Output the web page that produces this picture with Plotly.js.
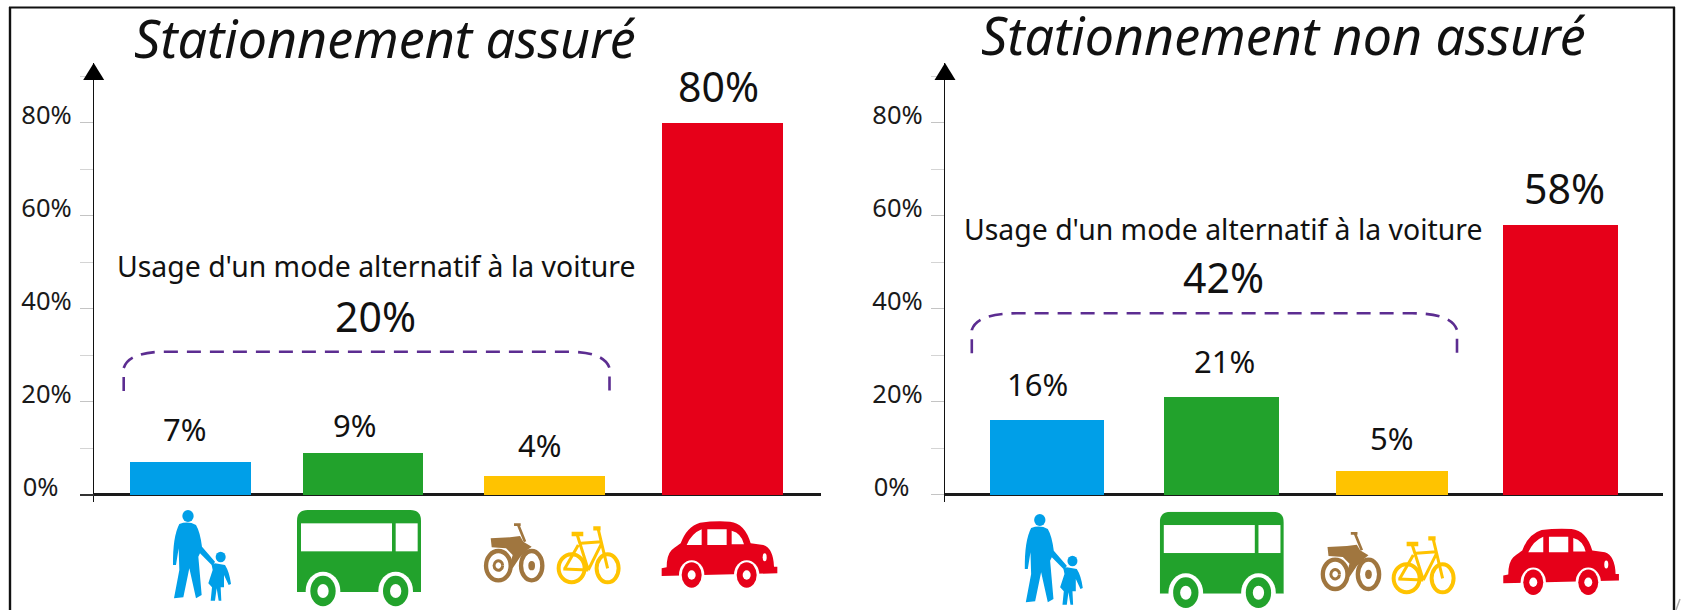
<!DOCTYPE html>
<html><head><meta charset="utf-8">
<script src="https://cdn.plot.ly/plotly-3.0.1.min.js"></script>
<style>html,body{margin:0;padding:0;background:#fff;overflow:hidden}#chart{width:1681px;height:610px}</style>
</head><body><div id="chart"></div>
<script>
// ---------- data ----------
const categories = ['Marche', 'Transports en commun', 'Deux-roues', 'Voiture'];
const barColors = ['#009fe8', '#22a22c', '#ffc300', '#e60019'];
const assureValues = [7, 9, 4, 80];
const nonAssureValues = [16, 21, 5, 58];
const assureTotal = 20;
const nonAssureTotal = 42;
const yTickValues = [0, 20, 40, 60, 80];
const yTickText = ['0%\u00a0\u00a0', '20%', '40%', '60%', '80%'];
const titleAssure = 'Stationnement assuré';
const titleNonAssure = 'Stationnement non assuré';
const noteText = "Usage d'un mode alternatif à la voiture";

// ---------- layout in page pixels ----------
const W = 1681, H = 610;
const px = x => x / W, py = y => 1 - y / H;
const yPxPerUnit = 4.65;
const panels = {
  left: {x0: 94, x1: 821, base: 494.5, top: 63, centers: [190, 363, 544, 722], widths: [121, 120.5, 121, 121]},
  right: {x0: 945, x1: 1663, base: 494.5, top: 63, centers: [1046.5, 1221.5, 1391.5, 1560.5], widths: [114, 115, 112, 114.5]}
};
const bottomOverhang = 7;
function domainY(p) { return [py(p.base + bottomOverhang), py(p.top)]; }
function rangeY(p) { return [-bottomOverhang / yPxPerUnit, (p.base - p.top) / yPxPerUnit]; }

function yAxis(p, anchor) {
  return {
    domain: domainY(p), range: rangeY(p), anchor, fixedrange: true,
    showgrid: false, showline: true, linecolor: '#111', linewidth: 1.2,
    zeroline: true, zerolinecolor: '#1a1a1a', zerolinewidth: 2.4,
    tickmode: 'array', tickvals: yTickValues, ticktext: yTickText,
    ticks: 'outside', ticklen: 13, tickwidth: 1, tickcolor: '#c4c4c4',
    ticklabelshift: -7, ticklabelstandoff: 3,
    minor: {tickmode: 'array', tickvals: [10, 30, 50, 70, 90], ticks: 'outside', ticklen: 13, tickwidth: 1, tickcolor: '#d4d4d4'},
    tickfont: {family: 'Noto Sans, sans-serif', size: 25.5, color: '#1a1a1a'}
  };
}
function xAxis(p, anchor) {
  return {domain: [px(p.x0), px(p.x1)], range: [p.x0, p.x1], anchor, fixedrange: true,
    showgrid: false, zeroline: false, showline: false, showticklabels: false, ticks: ''};
}
function barTrace(p, values, xa, ya) {
  return {type: 'bar', x: p.centers, y: values, width: p.widths, xaxis: xa, yaxis: ya,
    text: categories, textposition: 'none', hoverinfo: 'none',
    marker: {color: barColors, line: {width: 0}}, showlegend: false};
}

// ---------- text ----------
const valueFont = {family: 'Noto Sans, sans-serif', size: 31, color: '#111'};
const bigFont = {family: 'Noto Sans, sans-serif', size: 41, color: '#111'};
const noteFont = {family: 'Noto Sans, sans-serif', size: 28.4, color: '#111'};
const titleFont = {family: 'Noto Sans, sans-serif', size: 52, style: 'italic', color: '#111'};
function label(text, x, y, font) {
  return {text, x: px(x), y: py(y), xref: 'paper', yref: 'paper', xanchor: 'center', yanchor: 'middle',
    showarrow: false, font};
}
const annotations = [
  label(titleAssure, 385, 37, titleFont),
  label(titleNonAssure, 1283, 35, titleFont),
  label(noteText, 375.5, 266, noteFont),
  label(noteText, 1223, 229, noteFont),
  label(assureTotal + '%', 375, 316, bigFont),
  label(nonAssureTotal + '%', 1223.5, 277, bigFont),
  label(assureValues[0] + '%', 185, 428.5, valueFont),
  label(assureValues[1] + '%', 355, 424.5, valueFont),
  label(assureValues[2] + '%', 539.5, 445, valueFont),
  label(assureValues[3] + '%', 718, 86, bigFont),
  label(nonAssureValues[0] + '%', 1037, 384, valueFont),
  label(nonAssureValues[1] + '%', 1224.5, 361, valueFont),
  label(nonAssureValues[2] + '%', 1392, 438, valueFont),
  label(nonAssureValues[3] + '%', 1564, 188, bigFont)
];

// ---------- shapes ----------
function pathPx(cmds) {
  return cmds.map(c => c[0] + ' ' + c.slice(1).map((v, i) => i % 2 ? py(v) : px(v)).join(' ')).join(' ');
}
function line(x0, y0, x1, y1, color, width) {
  return {type: 'line', xref: 'paper', yref: 'paper', x0: px(x0), y0: py(y0), x1: px(x1), y1: py(y1), line: {color, width}};
}
function arrow(x, tip, base, half) {
  return {type: 'path', xref: 'paper', yref: 'paper', fillcolor: '#000', line: {width: 0},
    path: pathPx([['M', x, tip], ['L', x + half, base], ['L', x - half, base], ['Z']])};
}
function bracket(x0, x1, top, bottom, shoulderY, inset) {
  return {type: 'path', xref: 'paper', yref: 'paper', line: {color: '#5c2d91', width: 2.6, dash: '14px,9px'},
    path: pathPx([['M', x0, bottom], ['L', x0, shoulderY], ['C', x0 + 4, top + 4, x0 + inset * .5, top, x0 + inset, top],
      ['L', x1 - inset, top], ['C', x1 - inset * .5, top, x1 - 4, top + 4, x1, shoulderY], ['L', x1, bottom]])};
}
const shapes = [
  line(9, 7.5, 1675, 7.5, '#111', 2),
  line(10, 7, 10, 610, '#111', 2.4),
  line(1674, 7, 1674, 610, '#111', 2.4),
  line(1676, 610, 1680, 599, '#aaa', 1.5),
  arrow(93.7, 63, 80, 10.5),
  arrow(945, 63, 80, 10.5),
  line(80, 495, 94, 495, '#333', 2),
  bracket(123.7, 609.5, 351.7, 391, 368, 42),
  bracket(971.8, 1457, 313.3, 353.3, 330, 45)
];

// ---------- pictograms (inline SVG, each drawn in a 3x grid) ----------
function svgUri(w, h, body) {
  return 'data:image/svg+xml;base64,' + btoa('<svg xmlns="http://www.w3.org/2000/svg" width="' + w + '" height="' + h +
    '" viewBox="0 0 ' + w + ' ' + h + '">' + body + '</svg>');
}
const walkerSvg = svgUri(360, 360,
  '<g fill="#009fe8"><ellipse cx="114" cy="78" rx="17" ry="18"/>' +
  '<path d="M88 102Q115 92 138 105Q150 125 156 170L195 215L188 228L150 190L145 200L155 315L138 325L118 235L100 322L72 325L88 240L86 175L78 225L69 225Q68 140 88 102Z"/>' +
  '<ellipse cx="212" cy="201" rx="15" ry="16"/>' +
  '<path d="M195 220L225 225Q238 245 243 282L236 285L222 255L222 292L212 292L214 332L206 332L200 295L195 332L182 332L186 292L175 280L188 240L185 225Z"/></g>');
const busSvg = svgUri(372, 300,
  '<path fill="#22a22c" d="M0 32Q0 0 32 0H340Q372 0 372 32V246H0Z"/>' +
  '<rect fill="#fff" x="12" y="40" width="273" height="84"/><rect fill="#fff" x="296" y="40" width="66" height="84"/>' +
  '<ellipse fill="#fff" cx="78" cy="243" rx="52" ry="58"/><ellipse fill="#fff" cx="296" cy="243" rx="52" ry="58"/>' +
  '<rect fill="#fff" x="0" y="246" width="372" height="60"/>' +
  '<ellipse fill="#22a22c" cx="78" cy="243" rx="38" ry="46"/><ellipse fill="#22a22c" cx="296" cy="243" rx="38" ry="46"/>' +
  '<ellipse fill="#fff" cx="78" cy="243" rx="17" ry="21"/><ellipse fill="#fff" cx="296" cy="243" rx="17" ry="21"/>');
const motoSvg = svgUri(220, 210,
  '<g transform="translate(-35,-60)"><g fill="none" stroke="#a0763f">' +
  '<ellipse cx="85" cy="197" rx="37" ry="44" stroke-width="13"/><ellipse cx="185" cy="197" rx="32" ry="44" stroke-width="13"/>' +
  '<path d="M132 74H152M145 76L165 125" stroke-width="8"/></g>' +
  '<path d="M98 197A13 14 0 1 1 98 196" fill="none" stroke="#a0763f" stroke-width="9"/><ellipse cx="185" cy="197" rx="10" ry="14" fill="#a0763f"/>' +
  '<path fill="#a0763f" d="M62 115L120 112L150 108L160 125L185 140L172 150L150 172L128 205L118 200L128 165L108 145L65 142Z"/></g>');
const bikeSvg = svgUri(220, 210,
  '<g transform="translate(-250,-60)" fill="none" stroke="#ffc300">' +
  '<ellipse cx="305" cy="205" rx="39" ry="42" stroke-width="12"/><ellipse cx="413" cy="205" rx="33" ry="42" stroke-width="12"/>' +
  '<path stroke-width="13" d="M305 102H340M370 85H392"/>' +
  '<path stroke-width="9" d="M322 105L355 210M333 130L395 125M395 130L355 210M385 88L413 205M280 207L355 210M325 135L285 205"/></g>');
const carSvg = svgUri(360, 220,
  '<g transform="translate(-570,-60)"><path fill="#e60019" d="M575 205L590 202Q590 165 605 150Q625 135 632 130Q650 80 690 68Q735 62 780 65Q825 70 842 130L880 135Q910 145 912 200L922 200L922 220L575 228Z"/>' +
  '<path fill="#fff" d="M650 135Q665 100 695 88V135ZM712 88H770V135H712ZM785 92Q815 100 822 133H785Z"/>' +
  '<ellipse fill="#fff" cx="884" cy="172" rx="6" ry="12"/>' +
  '<ellipse fill="#fff" cx="665" cy="225" rx="38" ry="44"/><ellipse fill="#fff" cx="830" cy="225" rx="38" ry="44"/>' +
  '<ellipse fill="#e60019" cx="665" cy="225" rx="30" ry="38"/><ellipse fill="#e60019" cx="830" cy="225" rx="30" ry="38"/>' +
  '<ellipse fill="#fff" cx="665" cy="225" rx="12" ry="14"/><ellipse fill="#fff" cx="830" cy="225" rx="12" ry="14"/></g>');
function pic(source, x, y, w, h) {
  return {source, xref: 'paper', yref: 'paper', x: px(x), y: py(y), sizex: w / W, sizey: h / H,
    xanchor: 'left', yanchor: 'top', sizing: 'stretch', layer: 'above'};
}
const images = [
  pic(walkerSvg, 150, 490, 120, 120), pic(busSvg, 297, 510, 124, 100),
  pic(motoSvg, 481.7, 520, 73.3, 70), pic(bikeSvg, 553.3, 520, 73.3, 70), pic(carSvg, 660, 520, 120, 73.3),
  pic(walkerSvg, 1001.8, 494, 120, 120), pic(busSvg, 1159.8, 511.7, 124, 100),
  pic(motoSvg, 1318.5, 528.7, 73.3, 70), pic(bikeSvg, 1388.3, 530, 73.3, 70), pic(carSvg, 1501.6, 527.3, 120, 73.3)
];

Plotly.newPlot('chart', [
  barTrace(panels.left, assureValues, 'x', 'y'),
  barTrace(panels.right, nonAssureValues, 'x2', 'y2')
], {
  width: W, height: H, margin: {l: 0, r: 0, t: 0, b: 0}, paper_bgcolor: '#fff', plot_bgcolor: 'rgba(0,0,0,0)',
  showlegend: false, bargap: 0,
  xaxis: xAxis(panels.left, 'y'), yaxis: yAxis(panels.left, 'x'),
  xaxis2: xAxis(panels.right, 'y2'), yaxis2: yAxis(panels.right, 'x2'),
  annotations, shapes, images
}, {displayModeBar: false, staticPlot: true});
</script></body></html>
